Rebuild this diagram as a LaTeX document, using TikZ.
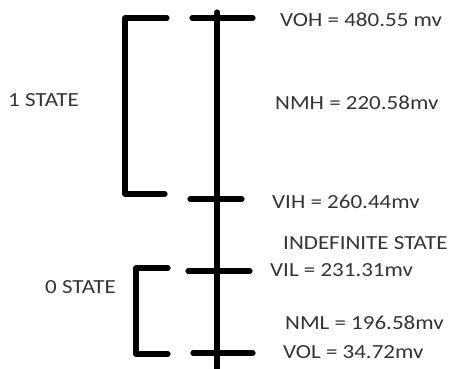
\documentclass[tikz,border=0pt]{standalone}
\usepackage{fontspec}
\setmainfont{Carlito}[FakeStretch=1.15]

\begin{document}
\begin{tikzpicture}[x=1pt,y=-1pt,
    bar/.style={line width=5.2pt,line cap=round,line join=round},
    lbl/.style={anchor=west,inner sep=0pt,text=black!80,font=\fontsize{20}{24}\selectfont}]
    \useasboundingbox (0,0) rectangle (454,368);
    % main axis
    \coordinate (top) at (217,12);
    \coordinate (bot) at (217,370);
    % level ticks
    \coordinate (voh1) at (192,18);
    \coordinate (voh2) at (253,18);
    \coordinate (vih1) at (190,199);
    \coordinate (vih2) at (242,199);
    \coordinate (vil1) at (188,271);
    \coordinate (vil2) at (250,271);
    \coordinate (vol1) at (193,353);
    \coordinate (vol2) at (253,353);
    % brackets
    \coordinate (oa) at (167,18);
    \coordinate (ob) at (125,18);
    \coordinate (oc) at (125,194);
    \coordinate (od) at (165,194);
    \coordinate (za) at (168,268);
    \coordinate (zb) at (136,268);
    \coordinate (zc) at (136,354);
    \coordinate (zd) at (168,354);
    \draw[bar] (top) -- (bot);
    \foreach \t in {voh,vih,vil,vol}
        \draw[bar] (\t1) -- (\t2);
    \draw[bar] (oa) -- (ob) -- (oc) -- (od);
    \draw[bar] (za) -- (zb) -- (zc) -- (zd);
    \node[lbl] (voh) at (280,20) {VOH = 480.55 mv};
    \node[lbl] (nmh) at (275,103) {NMH = 220.58mv};
    \node[lbl] (vih) at (272,202) {VIH = 260.44mv};
    \node[lbl] (ind) at (283,243) {INDEFINITE STATE};
    \node[lbl] (vil) at (270,270) {VIL = 231.31mv};
    \node[lbl] (nml) at (285,323) {NML = 196.58mv};
    \node[lbl] (vol) at (283,352) {VOL = 34.72mv};
    \node[lbl] (one) at (8,100) {1 STATE};
    \node[lbl] (zero) at (45,287) {0 STATE};
\end{tikzpicture}
\end{document}
